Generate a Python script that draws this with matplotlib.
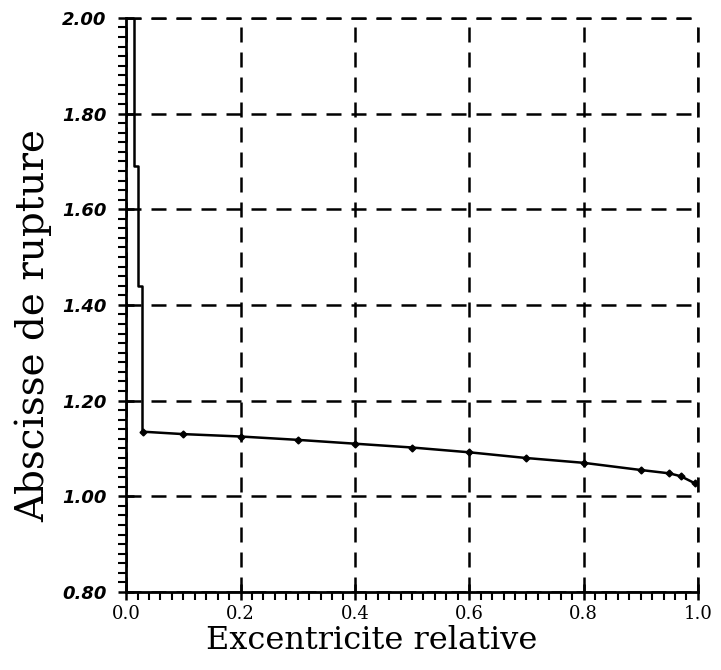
import matplotlib.pyplot as plt
from matplotlib.ticker import MultipleLocator

# Rupture abscissa vs relative eccentricity
# vertical steps near zero eccentricity
step_x = [0.013, 0.013, 0.020, 0.020, 0.027, 0.027, 0.030]
step_y = [2.00, 1.69, 1.69, 1.44, 1.44, 1.135, 1.135]
# computed points with markers
ecc = [0.03, 0.10, 0.20, 0.30, 0.40, 0.50, 0.60, 0.70, 0.80, 0.90, 0.95, 0.97, 0.995]
absc = [1.135, 1.130, 1.125, 1.118, 1.110, 1.102, 1.092, 1.080, 1.070, 1.055, 1.048, 1.042, 1.027]

xticks = [0.0, 0.2, 0.4, 0.6, 0.8, 1.0]
yticks = [0.80, 1.00, 1.20, 1.40, 1.60, 1.80, 2.00]

fig = plt.figure(figsize=(7.21, 6.70), dpi=100)
ax = fig.add_axes([0.175, 0.1164, 0.793, 0.857])

ax.plot(step_x, step_y, color='black', lw=1.8)
ax.plot(ecc, absc, color='black', lw=1.8, marker='D', ms=3.5)

ax.set_xlim(0, 1.0)
ax.set_ylim(0.8, 2.0)
ax.set_xticks(xticks)
ax.set_yticks(yticks)
ax.set_xticklabels([f'{v:.1f}' for v in xticks], family='DejaVu Serif', fontsize=13)
ax.set_yticklabels([f'{v:.2f}' for v in yticks], fontsize=13, fontweight='bold', fontstyle='italic')
ax.xaxis.set_minor_locator(MultipleLocator(0.02))
ax.yaxis.set_minor_locator(MultipleLocator(0.02))
ax.tick_params(which='major', direction='inout', length=12, width=1.8)
ax.tick_params(axis='y', which='major', pad=8)
ax.tick_params(axis='x', which='major', pad=3)
ax.tick_params(which='minor', direction='out', length=6, width=1.5)

for s in ['top', 'right']:
    ax.spines[s].set_visible(False)
for s in ['left', 'bottom']:
    ax.spines[s].set_linewidth(2)

ax.grid(True, which='major', color='black', ls=(0, (6, 4)), lw=1.8)
# dashed gridlines at the upper and right limits
ax.axhline(2.0, color='black', ls=(0, (6, 4)), lw=1.8, clip_on=False)
ax.axvline(1.0, color='black', ls=(0, (6, 4)), lw=1.8, clip_on=False)

ax.set_xlabel('Excentricite relative', family='DejaVu Serif', fontsize=23)
ax.set_ylabel('Abscisse de rupture', family='DejaVu Serif', fontsize=28)
ax.xaxis.set_label_coords(0.43, -0.058)
ax.yaxis.set_label_coords(-0.13, 0.465)

fig.savefig('out.png', dpi=100)
